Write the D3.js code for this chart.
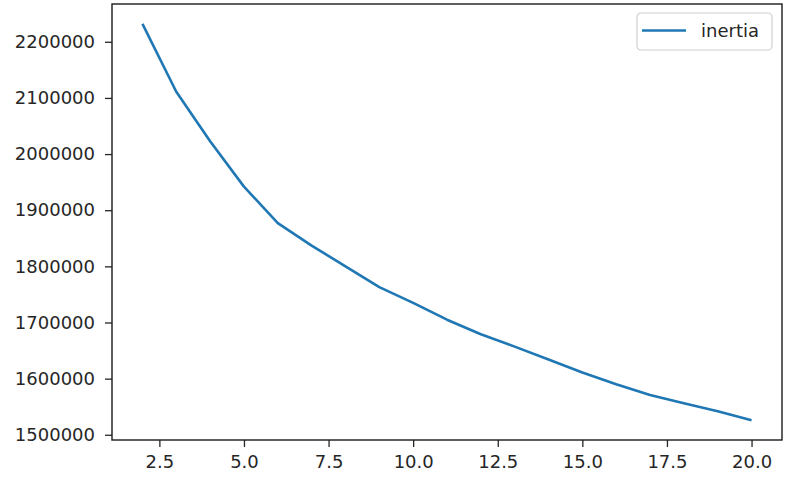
<!DOCTYPE html>
<html>
<head>
<meta charset="utf-8">
<script src="https://cdn.jsdelivr.net/npm/d3@7"></script>
<style>
  body { margin: 0; background: #fff; }
  text { font-family: "DejaVu Sans", sans-serif; fill: #262626; }
</style>
</head>
<body>
<div id="chart"></div>
<script>
// number of clusters vs inertia
var ks = [2, 3, 4, 5, 6, 7, 8, 9, 10, 11, 12, 13, 14, 15, 16, 17, 18, 19, 20];
var inertia = [2232000, 2111000, 2023000, 1942000, 1877000, 1837000, 1800000, 1763000, 1735000,
               1705000, 1679000, 1657000, 1634000, 1611000, 1590000, 1571000, 1556000, 1542000, 1526000];
var xTicks = [2.5, 5.0, 7.5, 10.0, 12.5, 15.0, 17.5, 20.0];
var yTicks = [1500000, 1600000, 1700000, 1800000, 1900000, 2000000, 2100000, 2200000];
var seriesName = "inertia";

var width = 791, height = 485;
// plot box (window.top is read-only, so no "top" var here)
var plotL = 112, plotR = 782, plotT = 4, plotB = 440;

var svg = d3.select("#chart").append("svg")
    .attr("width", width)
    .attr("height", height);

// matplotlib style 5% margins
var xPad = (d3.max(ks) - d3.min(ks)) * 0.05;
var yPad = (d3.max(inertia) - d3.min(inertia)) * 0.05;

var x = d3.scaleLinear()
    .domain([d3.min(ks) - xPad, d3.max(ks) + xPad])
    .range([plotL, plotR]);

var y = d3.scaleLinear()
    .domain([d3.min(inertia) - yPad, d3.max(inertia) + yPad])
    .range([plotB, plotT]);

var xAxis = svg.append("g")
    .attr("transform", "translate(0," + plotB + ")")
    .call(d3.axisBottom(x).tickValues(xTicks).tickSize(7).tickPadding(6)
        .tickFormat(d3.format(".1f")));

var yAxis = svg.append("g")
    .attr("transform", "translate(" + plotL + ",0)")
    .call(d3.axisLeft(y).tickValues(yTicks).tickSize(7).tickPadding(10)
        .tickFormat(d3.format("d")));

[xAxis, yAxis].forEach(function(g) {
    g.select(".domain").remove();
    g.selectAll(".tick line").attr("stroke", "#262626").attr("stroke-width", 1.3);
    g.selectAll(".tick text")
        .style("font-family", "DejaVu Sans, sans-serif")
        .style("font-size", "18px")
        .attr("fill", "#262626");
});
xAxis.selectAll(".tick text").attr("dy", "0.85em");

// frame
svg.append("rect")
    .attr("x", plotL)
    .attr("y", plotT)
    .attr("width", plotR - plotL)
    .attr("height", plotB - plotT)
    .attr("fill", "none")
    .attr("stroke", "#1a1a1a")
    .attr("stroke-width", 1.4);

var line = d3.line()
    .x(function(d, i) { return x(ks[i]); })
    .y(function(d) { return y(d); });

svg.append("path")
    .datum(inertia)
    .attr("d", line)
    .attr("fill", "none")
    .attr("stroke", "#1f77b4")
    .attr("stroke-width", 2.6)
    .attr("stroke-linejoin", "round");

// legend
var legend = svg.append("g").attr("transform", "translate(637,13)");
legend.append("rect")
    .attr("width", 135)
    .attr("height", 37)
    .attr("rx", 4)
    .attr("fill", "#fff")
    .attr("fill-opacity", 0.8)
    .attr("stroke", "#d0d0d0")
    .attr("stroke-width", 1.2);
legend.append("line")
    .attr("x1", 5).attr("x2", 49)
    .attr("y1", 17.5).attr("y2", 17.5)
    .attr("stroke", "#1f77b4")
    .attr("stroke-width", 2.6);
legend.append("text")
    .attr("x", 64)
    .attr("y", 24)
    .style("font-size", "18px")
    .text(seriesName);
</script>
</body>
</html>
